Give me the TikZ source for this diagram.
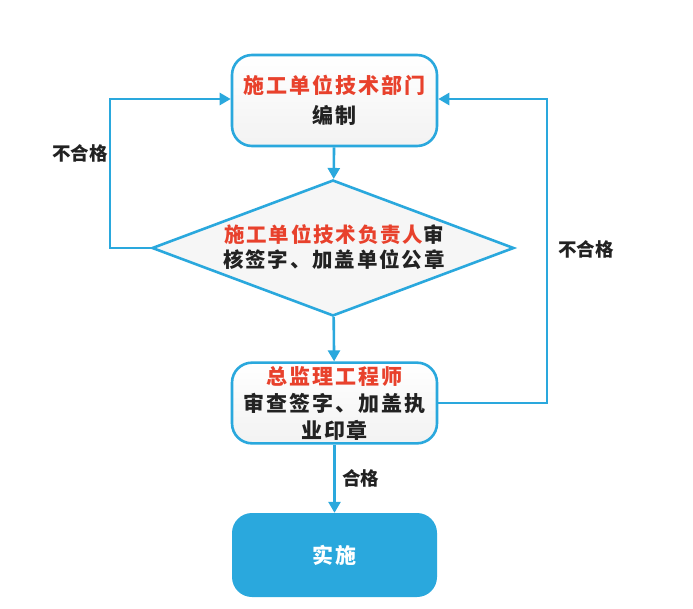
\documentclass[tikz,border=0pt]{standalone}
\usepackage{fontspec}
\usetikzlibrary{shapes.geometric,arrows.meta}
\newfontfamily\cjk[LetterSpace=9]{Noto Sans CJK SC}
\newfontfamily\cjklab{Noto Sans CJK SC}
\definecolor{flowblue}{HTML}{2AA8DD}
\definecolor{flowred}{HTML}{E8412C}
\definecolor{txtdark}{HTML}{222222}
\tikzset{
  x=1pt,y=-1pt,
  stepbox/.style={draw=flowblue,line width=2.6pt,rounded corners=20pt,minimum width=205pt,align=center,
     font=\cjk\bfseries\fontsize{21}{27}\selectfont,text=txtdark,top color=white,bottom color=gray!10},
  endbox/.style={fill=flowblue,rounded corners=20pt,minimum width=205pt,minimum height=84pt,
     font=\cjk\bfseries\fontsize{21}{27}\selectfont,text=white},
  decide/.style={diamond,aspect=2.66,draw=flowblue,line width=2.6pt,inner sep=0pt,minimum width=362pt,minimum height=136pt,
     fill=gray!7},
  conn/.style={draw=flowblue,line width=2.6pt,-{Triangle[length=11pt,width=12pt]}},
  lab/.style={font=\cjklab\bfseries\fontsize{18.5}{20}\selectfont,text=txtdark},
}
\begin{document}
\begin{tikzpicture}
\fill[white] (0,0) rectangle (693,608);
\useasboundingbox (0,0) rectangle (693,608);
\node[stepbox,minimum height=91pt] (a) at (334.5,100.5) {\textcolor{flowred}{施工单位技术部门}\\[3pt]编制};
\node[decide] (b) at (333,248) {};
\node[font=\cjk\bfseries\fontsize{20.5}{25}\selectfont,text=txtdark,align=center] (bt) at (334,247) {\textcolor{flowred}{施工单位技术负责人}审\\核签字、加盖单位公章};
\node[stepbox,minimum height=80pt] (c) at (334.5,403) {\textcolor{flowred}{总监理工程师}\\审查签字、加盖执\\业印章};
\node[endbox] (d) at (334.5,555) {实施};
\draw[conn] (a) -- (b);
\draw[conn] (b) -- (c);
\draw[conn] (c) -- (d) node[lab,midway,right=3pt] (l3) {合格};
\coordinate (p2) at (110,99);
\draw[conn] (b.west) -| (p2) -- (a.west |- p2);
\coordinate (q1) at (547,403);
\coordinate (q2) at (547,99);
\draw[conn] (c.east |- q1) -- (q1) -- (q2) -- (a.east |- q2);
\node[lab] (l1) at (80,153) {不合格};
\node[lab] (l2) at (586,249) {不合格};
\end{tikzpicture}
\end{document}
